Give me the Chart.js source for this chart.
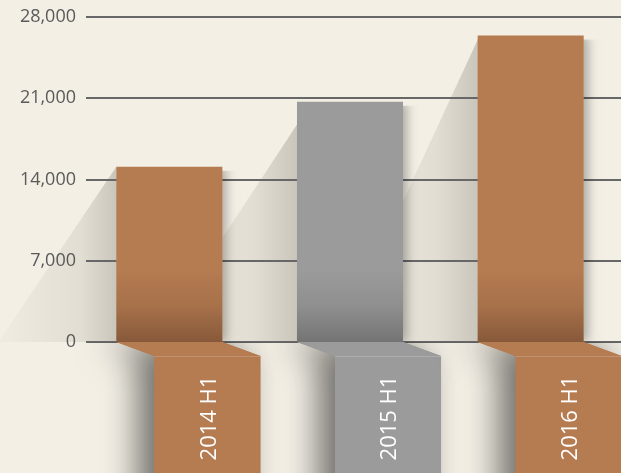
<!DOCTYPE html>
<html>
<head>
<meta charset="utf-8">
<script src="https://cdn.jsdelivr.net/npm/chart.js@4/dist/chart.umd.min.js"></script>
<style>
  html, body { margin: 0; padding: 0; background: #f3efe5; }
  #wrap { width: 621px; height: 473px; position: relative; }
</style>
</head>
<body>
<div id="wrap"><canvas id="chart"></canvas></div>
<script>
// Half-year totals
const periods = ['2014 H1', '2015 H1', '2016 H1'];
const totals = [15100, 20700, 26400];
const yTickValues = [0, 7000, 14000, 21000, 28000];

// Palette: each bar is [face colour, mid shade, dark foot colour]
const BROWN = ['#b57b51', '#a7714a', '#87593a'];
const GREY = ['#9b9b9b', '#8f8f8f', '#747474'];
const barPalette = [BROWN, GREY, BROWN];

const BG = '#f3efe5';
const FONT = '"Open Sans", "Noto Sans", sans-serif';

// Cast shadows behind each bar: horizontal reach at the baseline and apex shift
const castReach = [118, 143, 140];
const castApexShift = [0, 15, 2];

function barGradient(ctx, i) {
  const area = ctx.chart.chartArea;
  if (!area) return barPalette[i][0];
  const g = ctx.chart.ctx.createLinearGradient(0, area.bottom - 72, 0, area.bottom);
  g.addColorStop(0, barPalette[i][0]);
  g.addColorStop(0.5, barPalette[i][1]);
  g.addColorStop(1, barPalette[i][2]);
  return g;
}

const backdrop = {
  id: 'backdrop',
  beforeDraw(chart) {
    const { ctx, width, height } = chart;
    ctx.save();
    ctx.fillStyle = BG;
    ctx.fillRect(0, 0, width, height);
    ctx.restore();
  }
};

// Cast shadows, horizontal rules and soft side shadows under the bars
const underlay = {
  id: 'underlay',
  beforeDatasetsDraw(chart) {
    const { ctx, chartArea, scales } = chart;
    const meta = chart.getDatasetMeta(0);
    const base = scales.y.getPixelForValue(0);
    ctx.save();
    meta.data.forEach((bar, i) => {
      const left = bar.x - bar.width / 2;
      const apexX = left + castApexShift[i];
      const footX = left - castReach[i];
      const g = ctx.createLinearGradient(footX, 0, left, 0);
      g.addColorStop(0, 'rgba(90,80,60,0.02)');
      g.addColorStop(0.7, 'rgba(90,80,60,0.11)');
      g.addColorStop(1, 'rgba(70,65,55,0.24)');
      ctx.fillStyle = g;
      ctx.beginPath();
      ctx.moveTo(apexX, bar.y);
      ctx.lineTo(footX, base);
      ctx.lineTo(apexX + 4, base);
      ctx.closePath();
      ctx.fill();
    });

    ctx.strokeStyle = '#676767';
    ctx.lineWidth = 2;
    yTickValues.forEach(v => {
      const y = Math.round(scales.y.getPixelForValue(v));
      ctx.beginPath();
      ctx.moveTo(chartArea.left + 7, y);
      ctx.lineTo(chartArea.right, y);
      ctx.stroke();
    });

    meta.data.forEach((bar, i) => {
      const R = bar.x + bar.width / 2;
      ctx.save();
      ctx.beginPath();
      ctx.rect(R, bar.y + 4, 30, base - bar.y - 4);
      ctx.clip();
      ctx.shadowColor = 'rgba(0,0,0,0.3)';
      ctx.shadowBlur = 10;
      ctx.shadowOffsetX = 4;
      ctx.fillStyle = barPalette[i][0];
      ctx.fillRect(bar.x - bar.width / 2, bar.y, bar.width, base - bar.y);
      ctx.restore();
    });
    ctx.restore();
  }
};

// Folded ribbons hanging under the baseline, carrying the period labels
const ribbons = {
  id: 'ribbons',
  afterDatasetsDraw(chart) {
    const { ctx, scales, height } = chart;
    const meta = chart.getDatasetMeta(0);
    const base = scales.y.getPixelForValue(0);
    const dx = 38, dy = 14;
    meta.data.forEach((bar, i) => {
      const L = bar.x - bar.width / 2;
      const R = bar.x + bar.width / 2;
      const shape = () => {
        ctx.beginPath();
        ctx.moveTo(L, base);
        ctx.lineTo(R, base);
        ctx.lineTo(R + dx, base + dy);
        ctx.lineTo(R + dx, height + 40);
        ctx.lineTo(L + dx, height + 40);
        ctx.lineTo(L + dx, base + dy);
        ctx.closePath();
      };
      ctx.save();
      ctx.beginPath();
      ctx.rect(0, base, chart.width, height - base);
      ctx.clip();
      ctx.shadowColor = 'rgba(0,0,0,0.55)';
      ctx.shadowBlur = 34;
      ctx.shadowOffsetX = -16;
      ctx.fillStyle = barPalette[i][0];
      shape();
      ctx.fill();
      ctx.shadowColor = 'transparent';
      shape();
      ctx.fill();
      ctx.strokeStyle = 'rgba(255,255,255,0.18)';
      ctx.lineWidth = 1;
      ctx.beginPath();
      ctx.moveTo(L + dx, base + dy + 0.5);
      ctx.lineTo(R + dx, base + dy + 0.5);
      ctx.stroke();
      ctx.restore();

      ctx.save();
      ctx.translate(bar.x + dx + 2, base + dy + 62);
      ctx.rotate(-Math.PI / 2);
      ctx.fillStyle = '#ffffff';
      ctx.font = '22px ' + FONT;
      ctx.textAlign = 'center';
      ctx.textBaseline = 'middle';
      ctx.fillText(periods[i], 0, 0);
      ctx.restore();
    });
  }
};

new Chart(document.getElementById('chart'), {
  type: 'bar',
  data: {
    labels: periods,
    datasets: [{
      data: totals,
      backgroundColor: ctx => barGradient(ctx, ctx.dataIndex),
      borderWidth: 0,
      barPercentage: 0.587,
      categoryPercentage: 1
    }]
  },
  options: {
    responsive: true,
    maintainAspectRatio: false,
    animation: false,
    layout: { padding: { top: 17, bottom: 131, left: 0, right: 0 } },
    plugins: { legend: { display: false }, tooltip: { enabled: false } },
    scales: {
      x: { display: false, offset: true },
      y: {
        min: 0,
        max: 28000,
        afterBuildTicks: s => { s.ticks = yTickValues.map(v => ({ value: v })); },
        afterFit: s => { s.width = 79; },
        grid: { display: false, drawTicks: false },
        border: { display: false },
        ticks: {
          padding: 3,
          color: '#5a5a5a',
          font: { family: FONT, size: 18 },
          callback: v => v.toLocaleString('en-US')
        }
      }
    }
  },
  plugins: [backdrop, underlay, ribbons]
});
</script>
</body>
</html>
